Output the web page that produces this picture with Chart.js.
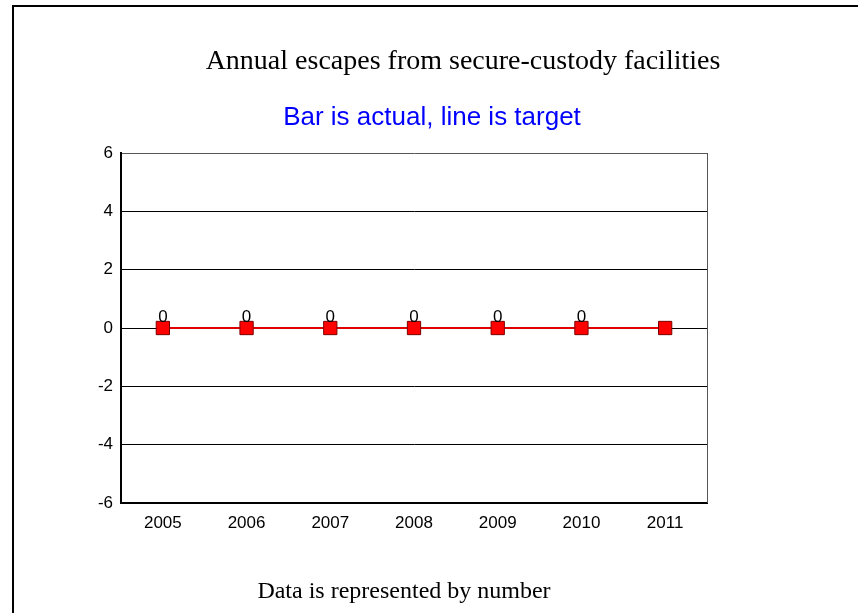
<!DOCTYPE html>
<html>
<head>
<meta charset="utf-8">
<title>Annual escapes from secure-custody facilities</title>
<script src="https://cdn.jsdelivr.net/npm/chart.js@4/dist/chart.umd.min.js"></script>
<style>
  html, body { margin: 0; padding: 0; background: #fff; }
  #page { position: relative; width: 858px; height: 613px; overflow: hidden; }
  #frame {
    position: absolute; left: 12px; top: 5px; right: -4px; bottom: -4px;
    border-top: 2px solid #000; border-left: 2px solid #000;
  }
  .txt { position: absolute; white-space: nowrap; transform: translateX(-50%); }
  #title { left: 463px; top: 46px; font: 28px/28px "Liberation Serif", "Times New Roman", serif; color: #000; }
  #subtitle { left: 432px; top: 103px; font: 26px/26px "Liberation Sans", Arial, sans-serif; color: #0000ff; }
  #note { left: 404px; top: 578px; font: 24px/24px "Liberation Serif", "Times New Roman", serif; color: #000; }
  #chart { position: absolute; left: 0; top: 0; }
</style>
</head>
<body>
<div id="page">
  <div id="frame"></div>
  <canvas id="chart" width="858" height="613"></canvas>
  <div class="txt" id="title">Annual escapes from secure-custody facilities</div>
  <div class="txt" id="subtitle">Bar is actual, line is target</div>
  <div class="txt" id="note">Data is represented by number</div>
</div>
<script>
const years = ['2005', '2006', '2007', '2008', '2009', '2010', '2011'];
const actual = [0, 0, 0, 0, 0, 0, null]; // no figure yet for 2011
const target = [0, 0, 0, 0, 0, 0, 0];
const yTicks = [-6, -4, -2, 0, 2, 4, 6];

const tickFont = { family: '"Liberation Sans", Arial, sans-serif', size: 17 };

// value labels above the bars
const barLabels = {
  id: 'barLabels',
  afterDatasetsDraw(chart) {
    const ctx = chart.ctx;
    const meta = chart.getDatasetMeta(0);
    ctx.save();
    ctx.font = '17px "Liberation Sans", Arial, sans-serif';
    ctx.fillStyle = '#000';
    ctx.textAlign = 'center';
    ctx.textBaseline = 'alphabetic';
    meta.data.forEach((bar, i) => {
      const v = actual[i];
      if (v === null || v === undefined) return;
      ctx.fillText(String(v), bar.x, bar.y - 6);
    });
    ctx.restore();
  }
};

// right edge of the plot box
const plotFrame = {
  id: 'plotFrame',
  beforeDatasetsDraw(chart) {
    const { ctx, chartArea } = chart;
    ctx.save();
    ctx.strokeStyle = '#555';
    ctx.lineWidth = 1;
    ctx.beginPath();
    ctx.moveTo(Math.round(chartArea.right) + 0.5, chartArea.top);
    ctx.lineTo(Math.round(chartArea.right) + 0.5, chartArea.bottom);
    ctx.stroke();
    ctx.restore();
  }
};

const ctx = document.getElementById('chart').getContext('2d');
new Chart(ctx, {
  data: {
    labels: years,
    datasets: [
      {
        type: 'line',
        label: 'Target',
        data: target,
        borderColor: '#e00000',
        borderWidth: 2,
        pointStyle: 'rect',
        pointRadius: 9.4,
        pointBackgroundColor: '#ff0000',
        pointBorderColor: '#7a0000',
        pointBorderWidth: 1,
        tension: 0,
        order: 0
      },
      {
        type: 'bar',
        label: 'Actual',
        data: actual,
        backgroundColor: '#000080',
        borderWidth: 0,
        order: 1
      }
    ]
  },
  plugins: [plotFrame, barLabels],
  options: {
    responsive: false,
    animation: false,
    layout: { padding: { left: 0, top: 153, right: 151, bottom: 0 } },
    plugins: {
      legend: { display: false },
      tooltip: { enabled: false }
    },
    scales: {
      x: {
        offset: true,
        grid: { display: false, drawTicks: false },
        border: { display: true, color: '#000', width: 2 },
        ticks: { color: '#000', font: tickFont, padding: 10, maxRotation: 0 },
        afterFit: (s) => { s.height = 110; }
      },
      y: {
        min: -6,
        max: 6,
        afterBuildTicks: (s) => { s.ticks = yTicks.map((v) => ({ value: v })); },
        grid: {
          drawTicks: false,
          lineWidth: 1,
          color: (c) => (c.tick && c.tick.value === 6 ? '#555' : '#000')
        },
        border: { display: true, color: '#000', width: 2 },
        ticks: { color: '#000', font: tickFont, padding: 8 },
        afterFit: (s) => { s.width = 121; }
      }
    }
  }
});
</script>
</body>
</html>
